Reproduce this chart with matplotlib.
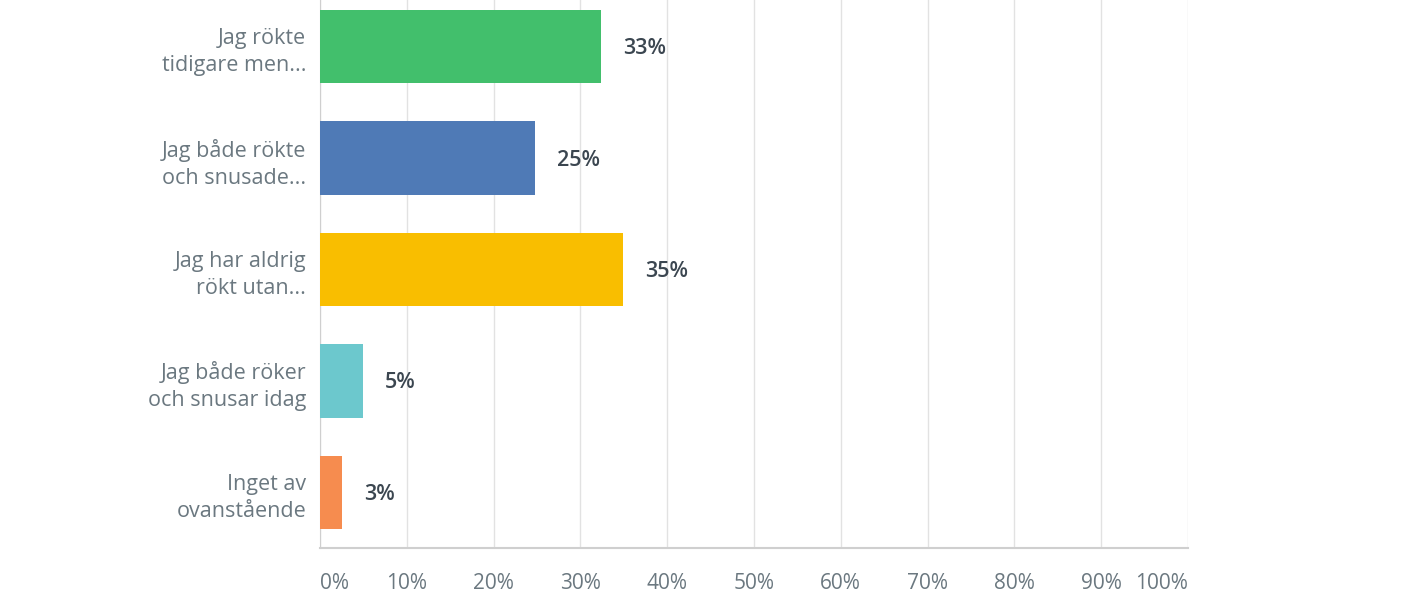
import matplotlib
matplotlib.use("Agg")
import matplotlib.pyplot as plt

categories = ["Jag rökte\ntidigare men...", "Jag både rökte\noch snusade...",
              "Jag har aldrig\nrökt utan...", "Jag både röker\noch snusar idag",
              "Inget av\novanstående"]
values = [32.4, 24.8, 34.9, 4.9, 2.5]
value_labels = ["33%", "25%", "35%", "5%", "3%"]
colors = ["#42bf6c", "#4f7ab6", "#f9be00", "#6cc8cd", "#f68c4f"]
ticks = [0, 10, 20, 30, 40, 50, 60, 70, 80, 90, 100]
tick_labels = [f"{t}%" for t in ticks]

plt.rcParams['font.family'] = ['Open Sans', 'DejaVu Sans']

fig = plt.figure(figsize=(14.2, 6), dpi=100)
ax = fig.add_axes([320/1420, 52/600, 868/1420, 557/600])

ypos = list(range(len(categories)))
ax.barh(ypos, values, height=0.66, color=colors, zorder=3)
ax.set_ylim(len(categories) - 0.5, -0.5)
ax.set_xlim(0, 100)

for y, v, lab in zip(ypos, values, value_labels):
    ax.annotate(lab, (v, y), xytext=(16, -1.5), textcoords="offset points",
                ha="left", va="center", fontsize=15.5, fontweight="semibold",
                color="#3b4650")

ax.set_yticks(ypos)
ax.set_yticklabels(categories, fontsize=15.5, color="#6b7880", linespacing=1.38)
ax.tick_params(axis="y", length=0, pad=10)

ax.set_xticks(ticks)
ax.set_xticklabels(tick_labels, fontsize=15, color="#6b7880")
ax.tick_params(axis="x", length=0, pad=18)
xl = ax.get_xticklabels()
xl[0].set_ha("left")
xl[-1].set_ha("right")

ax.grid(axis="x", color="#e2e2e2", linewidth=1, zorder=0)
for s in ["top", "right"]:
    ax.spines[s].set_visible(False)
ax.spines["left"].set_color("#cfcfcf")
ax.spines["bottom"].set_color("#cfcfcf")
ax.spines["bottom"].set_linewidth(1.5)

fig.savefig("out.png", dpi=100)
